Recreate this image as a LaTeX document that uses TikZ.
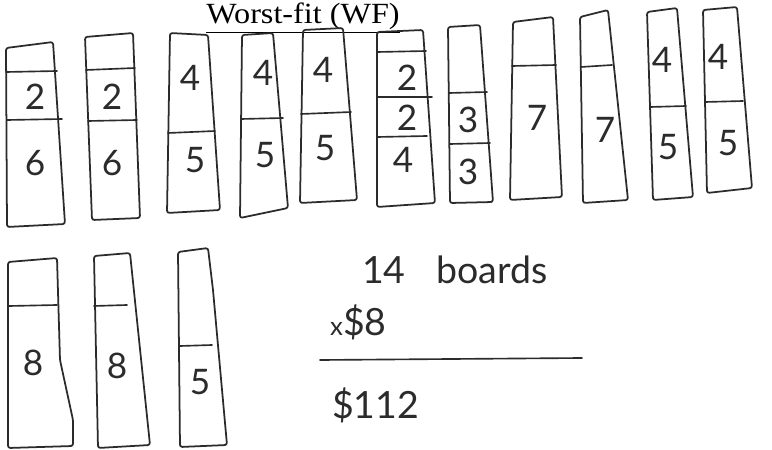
\documentclass[tikz,border=0pt]{standalone}
\usepackage{fontspec}
\usepackage{xcolor}
\usepackage{tikz}
\usetikzlibrary{positioning, calc}
\setmainfont{Liberation Serif}
\newfontfamily\handfont{Lato}
\definecolor{pencil}{HTML}{2B2B2B}

\begin{document}
\begin{tikzpicture}[x=0.03cm, y=-0.03cm,
    board/.style={draw=pencil, line width=1.5pt, rounded corners=2pt, line join=round},
    cut/.style={draw=pencil, line width=1.4pt, line cap=round},
    num/.style={text=pencil, font=\handfont\fontsize{30}{30}\selectfont, inner sep=0pt},
    sum/.style={text=pencil, font=\handfont\fontsize{32}{32}\selectfont, inner sep=0pt, anchor=west}]
  \useasboundingbox (0,0) rectangle (772,450);

  \node[font=\fontsize{25}{25}\selectfont, inner sep=0pt, anchor=base, xscale=1.1] (title) at (303,24) {\underline{Worst-fit (WF)}};

  % first row of boards
  \draw[board] (6,48) -- (53,42) -- (65,224) -- (7,227) -- cycle;
  \draw[cut] (6,72) -- (57,71);
  \draw[cut] (7,120) -- (62,119);
  \node[num] (b1a) at (35,97) {2};
  \node[num] (b1b) at (35,163) {6};

  \draw[board] (85,37) -- (133,33) -- (140,218) -- (92,220) -- cycle;
  \draw[cut] (86,70) -- (135,68);
  \draw[cut] (88,121) -- (137,120);
  \node[num] (b2a) at (112,97) {2};
  \node[num] (b2b) at (112,163) {6};

  \draw[board] (170,33) -- (208,35) -- (220,210) -- (167,213) -- cycle;
  \draw[cut] (168,133) -- (215,131);
  \node[num] (b3a) at (190,78) {4};
  \node[num] (b3b) at (195,160) {5};

  \draw[board] (242,35) -- (273,33) -- (288,208) -- (240,218) -- cycle;
  \draw[cut] (241,119) -- (283,118);
  \node[num] (b4a) at (263,73) {4};
  \node[num] (b4b) at (265,155) {5};

  \draw[board] (303,30) -- (343,28) -- (357,200) -- (300,203) -- cycle;
  \draw[cut] (301,114) -- (351,112);
  \node[num] (b5a) at (323,70) {4};
  \node[num] (b5b) at (325,148) {5};

  \draw[board] (377,32) -- (423,30) -- (435,203) -- (377,207) -- cycle;
  \draw[cut] (377,52) -- (426,51);
  \draw[cut] (377,97) -- (432,97);
  \draw[cut] (377,137) -- (427,136);
  \node[num] (b6a) at (407,78) {2};
  \node[num] (b6b) at (407,118) {2};
  \node[num] (b6c) at (403,160) {4};

  \draw[board] (448,27) -- (480,25) -- (493,202) -- (450,203) -- cycle;
  \draw[cut] (449,93) -- (487,92);
  \draw[cut] (450,144) -- (490,143);
  \node[num] (b7a) at (468,120) {3};
  \node[num] (b7b) at (468,172) {3};

  \draw[board] (513,22) -- (553,17) -- (562,197) -- (510,200) -- cycle;
  \draw[cut] (512,66) -- (556,65);
  \node[num] (b8a) at (537,118) {7};

  \draw[board] (580,17) -- (608,10) -- (628,200) -- (583,203) -- cycle;
  \draw[cut] (581,67) -- (612,65);
  \node[num] (b9a) at (605,130) {7};

  \draw[board] (647,12) -- (677,8) -- (693,197) -- (653,200) -- cycle;
  \draw[cut] (650,107) -- (686,106);
  \node[num] (b10a) at (662,60) {4};
  \node[num] (b10b) at (668,147) {5};

  \draw[board] (703,10) -- (737,7) -- (752,188) -- (707,193) -- cycle;
  \draw[cut] (705,102) -- (743,101);
  \node[num] (b11a) at (718,57) {4};
  \node[num] (b11b) at (728,143) {5};

  % second row of boards
  \draw[board] (8,262) -- (57,258) -- (60,360) -- (73,420) -- (73,446) -- (8,448) -- cycle;
  \draw[cut] (9,306) -- (57,305);
  \node[num] (b12a) at (33,363) {8};

  \draw[board] (94,256) -- (130,253) -- (150,445) -- (98,448) -- cycle;
  \draw[cut] (94,306) -- (127,305);
  \node[num] (b13a) at (117,366) {8};

  \draw[board] (178,252) -- (208,248) -- (213,290) -- (227,445) -- (180,447) -- cycle;
  \draw[cut] (180,346) -- (212,345);
  \node[num] (b14a) at (200,382) {5};

  % total cost
  \node[sum] (count) at (362,270) {14\hspace{26pt}boards};
  \node[sum] (price) at (330,322) {{\fontsize{22}{22}\selectfont x}\$8};
  \coordinate (ruleL) at (320,360);
  \coordinate (ruleR) at (582,358);
  \draw[cut] (ruleL) -- (ruleR);
  \node[sum] (total) at (332,405) {\$112};
\end{tikzpicture}
\end{document}
